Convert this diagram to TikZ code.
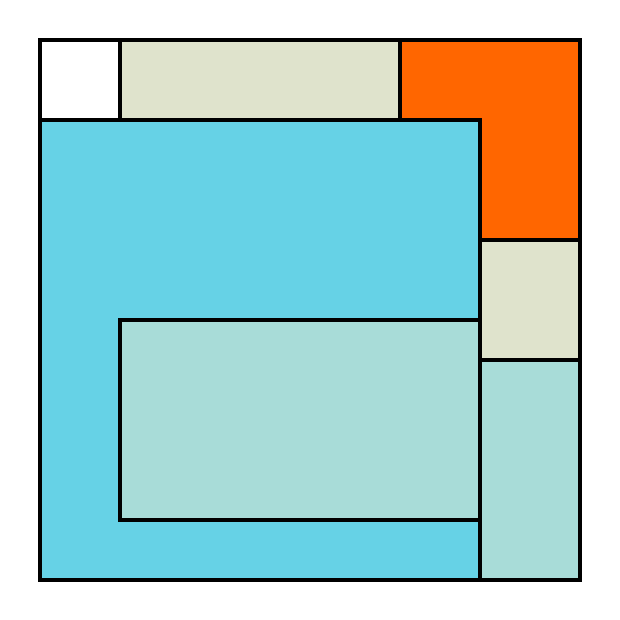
\documentclass[tikz,border=0pt]{standalone}
\usetikzlibrary{positioning}
\definecolor{cblue}{HTML}{66D2E6}
\definecolor{corange}{HTML}{FF6600}
\definecolor{cbeige}{HTML}{DFE3CC}
\definecolor{cteal}{HTML}{A8DCD8}
\tikzset{
  tile/.style={draw=black, fill=#1, line width=2.6pt, line join=miter},
  tile/.default=white,
}
\begin{document}
\begin{tikzpicture}[x=0.5cm, y=-0.5cm]
  \useasboundingbox (0,0) rectangle (31,31);
  % top row
  \draw[tile] (2,2) rectangle (6,6);
  \draw[tile=cbeige] (6,2) rectangle (20,6);
  \draw[tile=corange] (20,2) -- (29,2) -- (29,12) -- (24,12) -- (24,6) -- (20,6) -- cycle;
  % big block and the one inside it
  \draw[tile=cblue] (2,6) rectangle (24,29);
  \draw[tile=cteal] (6,16) rectangle (24,26);
  % right column
  \draw[tile=cbeige] (24,12) rectangle (29,18);
  \draw[tile=cteal] (24,18) rectangle (29,29);
\end{tikzpicture}
\end{document}
